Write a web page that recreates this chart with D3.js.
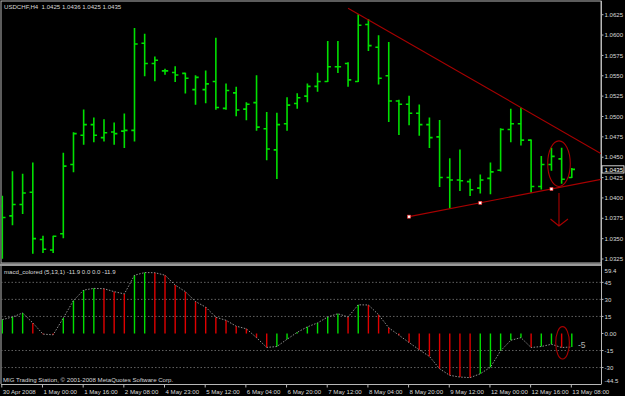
<!DOCTYPE html>
<html>
<head>
<meta charset="utf-8">
<script src="https://cdn.jsdelivr.net/npm/d3@7"></script>
<style>
  html, body { margin: 0; padding: 0; background: #000; }
  svg { display: block; }
  text { font-family: "Liberation Sans", Arial, sans-serif; }
</style>
</head>
<body>
<script>
// DATA -----------------------------------------------------------------------

var symbol = "USDCHF,H4";
var macdName = "macd_colored (5,13,1)";

// H4 bars, 30 Apr 08:00 .. 13 May 08:00
var opens  = [1.0390,1.0378,1.0392,1.0407,1.0349,1.0336,1.0356,1.0441,1.0477,1.0490,
              1.0474,1.0481,1.0482,1.0483,1.0590,1.0565,1.0556,1.0554,1.0553,1.0533,
              1.0533,1.0543,1.0510,1.0529,1.0509,1.0517,1.0485,1.0459,1.0491,1.0516,
              1.0525,1.0537,1.0543,1.0561,1.0565,1.0543,1.0613,1.0585,1.0550,1.0519,
              1.0515,1.0504,1.0490,1.0475,1.0425,1.0422,1.0420,1.0412,1.0424,1.0434,
              1.0484,1.0491,1.0471,1.0414,1.0441,1.0448,1.0425];
var highs  = [1.0402,1.0432,1.0429,1.0443,1.0353,1.0353,1.0455,1.0480,1.0508,1.0498,
              1.0496,1.0492,1.0503,1.0608,1.0601,1.0573,1.0558,1.0561,1.0553,1.0550,
              1.0556,1.0596,1.0540,1.0536,1.0517,1.0550,1.0505,1.0504,1.0523,1.0528,
              1.0540,1.0553,1.0592,1.0592,1.0566,1.0625,1.0619,1.0599,1.0591,1.0520,
              1.0525,1.0514,1.0498,1.0495,1.0448,1.0459,1.0423,1.0428,1.0443,1.0485,
              1.0509,1.0510,1.0471,1.0451,1.0461,1.0461,1.0436];
var lows   = [1.0326,1.0367,1.0381,1.0332,1.0333,1.0333,1.0351,1.0432,1.0466,1.0469,
              1.0470,1.0466,1.0462,1.0470,1.0550,1.0544,1.0552,1.0543,1.0529,1.0515,
              1.0517,1.0509,1.0509,1.0501,1.0496,1.0483,1.0447,1.0424,1.0483,1.0510,
              1.0518,1.0531,1.0543,1.0554,1.0537,1.0543,1.0581,1.0540,1.0494,1.0478,
              1.0490,1.0477,1.0462,1.0414,1.0388,1.0409,1.0403,1.0406,1.0405,1.0433,
              1.0469,1.0465,1.0407,1.0411,1.0434,1.0418,1.0425];
var closes = [1.0376,1.0392,1.0406,1.0350,1.0337,1.0353,1.0439,1.0479,1.0490,1.0477,
              1.0480,1.0479,1.0483,1.0589,1.0565,1.0569,1.0556,1.0551,1.0547,1.0548,
              1.0540,1.0511,1.0532,1.0508,1.0515,1.0487,1.0460,1.0490,1.0514,1.0523,
              1.0537,1.0543,1.0561,1.0561,1.0545,1.0612,1.0587,1.0547,1.0519,1.0515,
              1.0504,1.0490,1.0474,1.0425,1.0422,1.0421,1.0410,1.0422,1.0432,1.0484,
              1.0491,1.0471,1.0414,1.0441,1.0451,1.0423,1.0435];

var macdValues = [12.2,14.5,18.0,9.3,-0.6,-1.2,13.7,29.0,38.2,39.7,
                  39.4,36.8,34.8,51.3,53.6,53.5,51.3,42.6,36.8,28.1,
                  23.2,14.3,11.6,6.4,4.1,-3.7,-12.3,-11.5,-5.1,1.0,
                  5.8,9.3,14.5,17.4,14.5,25.2,25.1,16.5,5.0,-1.5,
                  -8.0,-14.4,-20.2,-31.1,-36.9,-38.4,-38.9,-35.5,-29.7,-15.3,
                  -6.0,-3.7,-12.4,-11.5,-9.5,-12.4,-11.9];

var timeTickIdx    = [0,4,8,12,16,20,24,28,32,36,40,44,48,52,56];
var timeTickLabels = ["30 Apr 2008","1 May 00:00","1 May 16:00","2 May 08:00","4 May 23:00",
                      "5 May 12:00","6 May 04:00","6 May 20:00","7 May 12:00","8 May 04:00",
                      "8 May 20:00","9 May 12:00","12 May 00:00","12 May 16:00","13 May 08:00"];

var priceTicks = [1.0625,1.0600,1.0575,1.0550,1.0525,1.0500,1.0475,1.0450,
                  1.0425,1.0400,1.0375,1.0350,1.0325];

var macdMax = 59.4, macdMin = -44.5;
var macdTicks      = [45, 30, 15, 0, -15, -30];
var macdTickLabels = ["45", "30", "15", "0.00", "-15", "-30"];
var macdLevels     = [45, 30, 15, -15, -30];

// drawn objects (bar index / price)
var upperTrendIdx   = [34, 51];
var upperTrendPrice = [1.0633, 1.0511];
var lowerTrendIdx   = [40, 47, 54];
var lowerTrendPrice = [1.0377, 1.0394, 1.0411];
var ellipseIdx      = [53.63, 55.85];
var ellipsePrice    = [1.0470, 1.0414];
var arrowIdx        = 54.74;
var arrowPrice      = [1.0406, 1.03655];
var subEllipseIdx   = [54.42, 55.76];
var subEllipseVal   = [6.0, -22.5];
var subTextIdx = 56.6, subTextVal = -10.1, subText = "-5";


// SETUP ----------------------------------------------------------------------

var W = 625, H = 396;
var chartLeft = 1, chartRight = 601;
var mainTop = 1, mainBottom = 263;
var subTop = 266, subBottom = 384;

var GREEN = "#00e000", RED = "#e00000", DRAW = "#a80000";
var TEXT = "#d8d8d8", FRAME = "#b8b8b8";

var svg = d3.select("body").append("svg")
    .attr("width", W).attr("height", H)
    .style("background", "#000");

var x = d3.scaleLinear().domain([0, 56]).range([2.3, 571.8]);
var y = d3.scaleLinear().domain([1.0325, 1.0625]).range([259, 14.7]);
var ys = d3.scaleLinear().domain([macdMin, macdMax]).range([subBottom, subTop]);

var defs = svg.append("defs");
defs.append("clipPath").attr("id", "clipMain").append("rect")
    .attr("x", chartLeft + 0.5).attr("y", mainTop + 0.5)
    .attr("width", chartRight - chartLeft - 0.5).attr("height", mainBottom - mainTop - 0.5);
defs.append("clipPath").attr("id", "clipSub").append("rect")
    .attr("x", chartLeft + 0.5).attr("y", subTop + 0.5)
    .attr("width", chartRight - chartLeft - 0.5).attr("height", subBottom - subTop - 0.5);


// FRAMES ---------------------------------------------------------------------

svg.append("rect")
    .attr("x", chartLeft).attr("y", mainTop)
    .attr("width", chartRight - chartLeft).attr("height", mainBottom - mainTop)
    .attr("fill", "none").attr("stroke", FRAME).attr("stroke-width", 1);
svg.append("rect")
    .attr("x", 0).attr("y", mainBottom + 0.5)
    .attr("width", chartRight + 0.5).attr("height", subTop - mainBottom - 0.5)
    .attr("fill", "#9a9a9a");
svg.append("line")
    .attr("x1", chartLeft).attr("x2", chartLeft)
    .attr("y1", subTop).attr("y2", subBottom)
    .attr("stroke", FRAME);
svg.append("line")
    .attr("x1", chartRight + 0.5).attr("x2", chartRight + 0.5)
    .attr("y1", mainTop).attr("y2", subBottom)
    .attr("stroke", FRAME);
svg.append("line")
    .attr("x1", chartLeft).attr("x2", chartRight + 0.5)
    .attr("y1", subBottom + 0.5).attr("y2", subBottom + 0.5)
    .attr("stroke", FRAME);


// MAIN PANEL -----------------------------------------------------------------

var main = svg.append("g").attr("clip-path", "url(#clipMain)");
var idx = d3.range(opens.length);

var bars = main.append("g").attr("stroke", GREEN).attr("stroke-width", 1.6);
bars.selectAll(".hl").data(idx).enter().append("line")
    .attr("x1", function(i) { return x(i); }).attr("x2", function(i) { return x(i); })
    .attr("y1", function(i) { return y(highs[i]) - 0.5; })
    .attr("y2", function(i) { return y(lows[i]) + 0.5; });
bars.selectAll(".op").data(idx).enter().append("line")
    .attr("x1", function(i) { return x(i) - 3.2; }).attr("x2", function(i) { return x(i); })
    .attr("y1", function(i) { return y(opens[i]); }).attr("y2", function(i) { return y(opens[i]); });
bars.selectAll(".cl").data(idx).enter().append("line")
    .attr("x1", function(i) { return x(i); }).attr("x2", function(i) { return x(i) + 3.2; })
    .attr("y1", function(i) { return y(closes[i]); }).attr("y2", function(i) { return y(closes[i]); });

// trend lines, extended to the right edge
function extendRight(i0, p0, i1, p1) {
    var x0 = x(i0), y0 = y(p0), x1 = x(i1), y1 = y(p1);
    var k = (y1 - y0) / (x1 - x0);
    return [x0, y0, chartRight + 5, y0 + k * (chartRight + 5 - x0)];
}
var up = extendRight(upperTrendIdx[0], upperTrendPrice[0], upperTrendIdx[1], upperTrendPrice[1]);
main.append("line")
    .attr("x1", up[0]).attr("y1", up[1]).attr("x2", up[2]).attr("y2", up[3])
    .attr("stroke", DRAW).attr("stroke-width", 1.1);
var lo = extendRight(lowerTrendIdx[0], lowerTrendPrice[0], lowerTrendIdx[2], lowerTrendPrice[2]);
main.append("line")
    .attr("x1", lo[0]).attr("y1", lo[1]).attr("x2", lo[2]).attr("y2", lo[3])
    .attr("stroke", DRAW).attr("stroke-width", 1.1);
main.selectAll(".anchor").data(lowerTrendIdx).enter().append("rect")
    .attr("x", function(d) { return x(d) - 1.5; })
    .attr("y", function(d, i) { return y(lowerTrendPrice[i]) - 1.5; })
    .attr("width", 3).attr("height", 3)
    .attr("fill", "#ffffff").attr("stroke", "#ff3030").attr("stroke-width", 0.6);

// ellipse around the last bars
main.append("ellipse")
    .attr("cx", (x(ellipseIdx[0]) + x(ellipseIdx[1])) / 2)
    .attr("cy", (y(ellipsePrice[0]) + y(ellipsePrice[1])) / 2)
    .attr("rx", (x(ellipseIdx[1]) - x(ellipseIdx[0])) / 2)
    .attr("ry", (y(ellipsePrice[1]) - y(ellipsePrice[0])) / 2)
    .attr("fill", "none").attr("stroke", DRAW).attr("stroke-width", 1.1);

// down arrow
var ax = x(arrowIdx), ay0 = y(arrowPrice[0]), ay1 = y(arrowPrice[1]);
main.append("path")
    .attr("d", "M" + ax + "," + ay0 + "V" + ay1 +
               "M" + (ax - 8.5) + "," + (ay1 - 7) + "L" + ax + "," + ay1 +
               "L" + (ax + 9) + "," + (ay1 - 7))
    .attr("fill", "none").attr("stroke", DRAW).attr("stroke-width", 1.1);

svg.append("text")
    .attr("x", 4).attr("y", 9.2)
    .attr("font-size", 6.1).attr("fill", TEXT)
    .attr("xml:space", "preserve")
    .text(symbol + "  " + [opens[56], highs[56], lows[56], closes[56]]
          .map(function(v) { return v.toFixed(4); }).join(" "));

// price axis
var pAxis = svg.append("g");
pAxis.selectAll("line").data(priceTicks).enter().append("line")
    .attr("x1", chartRight).attr("x2", chartRight + 2.5)
    .attr("y1", function(d) { return y(d); }).attr("y2", function(d) { return y(d); })
    .attr("stroke", FRAME);
pAxis.selectAll("text").data(priceTicks).enter().append("text")
    .attr("x", chartRight + 3.5).attr("y", function(d) { return y(d) + 2.2; })
    .attr("font-size", 6.1).attr("fill", TEXT)
    .text(function(d) { return d.toFixed(4); });

// current price label
var lastY = y(closes[56]);
svg.append("rect")
    .attr("x", chartRight + 1).attr("y", lastY - 3.6)
    .attr("width", 22).attr("height", 7.2)
    .attr("fill", "#000").attr("stroke", "#ffffff").attr("stroke-width", 0.8);
svg.append("text")
    .attr("x", chartRight + 3.5).attr("y", lastY + 2.2)
    .attr("font-size", 6.1).attr("fill", "#ffffff")
    .text(closes[56].toFixed(4));


// MACD PANEL -----------------------------------------------------------------

var sub = svg.append("g").attr("clip-path", "url(#clipSub)");

sub.selectAll(".lvl").data(macdLevels).enter().append("line")
    .attr("x1", chartLeft).attr("x2", chartRight)
    .attr("y1", function(d) { return ys(d); }).attr("y2", function(d) { return ys(d); })
    .attr("stroke", "#7a7a7a").attr("stroke-width", 0.8)
    .attr("stroke-dasharray", "1.5,2");

sub.selectAll(".hist").data(idx).enter().append("line")
    .attr("x1", function(i) { return x(i); }).attr("x2", function(i) { return x(i); })
    .attr("y1", ys(0))
    .attr("y2", function(i) { return ys(macdValues[i]); })
    .attr("stroke", function(i) {
        return (i === 0 || macdValues[i] >= macdValues[i - 1]) ? GREEN : RED;
    })
    .attr("stroke-width", 1.4);

sub.append("path")
    .datum(idx)
    .attr("d", d3.line()
        .x(function(i) { return x(i); })
        .y(function(i) { return ys(macdValues[i]); }))
    .attr("fill", "none").attr("stroke", "#a0a0a0").attr("stroke-width", 0.9)
    .attr("stroke-dasharray", "1.5,1.5");

sub.append("ellipse")
    .attr("cx", (x(subEllipseIdx[0]) + x(subEllipseIdx[1])) / 2)
    .attr("cy", (ys(subEllipseVal[0]) + ys(subEllipseVal[1])) / 2)
    .attr("rx", (x(subEllipseIdx[1]) - x(subEllipseIdx[0])) / 2)
    .attr("ry", (ys(subEllipseVal[1]) - ys(subEllipseVal[0])) / 2)
    .attr("fill", "none").attr("stroke", DRAW).attr("stroke-width", 1.1);

sub.append("text")
    .attr("x", x(subTextIdx)).attr("y", ys(subTextVal) + 3)
    .attr("font-size", 8.5).attr("fill", "#b0b0b0")
    .text(subText);

var mv = macdValues[macdValues.length - 1];
svg.append("text")
    .attr("x", 4).attr("y", subTop + 8.2)
    .attr("font-size", 6.1).attr("fill", TEXT)
    .text(macdName + " " + mv.toFixed(1) + " 0.0 0.0 " + mv.toFixed(1));

svg.append("text")
    .attr("x", 3).attr("y", subBottom - 2.5)
    .attr("font-size", 6.1).attr("fill", TEXT)
    .text("MIG Trading Station, \u00a9 2001-2008 MetaQuotes Software Corp.");

// macd axis
var sAxis = svg.append("g");
sAxis.selectAll("line").data(macdTicks).enter().append("line")
    .attr("x1", chartRight).attr("x2", chartRight + 2.5)
    .attr("y1", function(d) { return ys(d); }).attr("y2", function(d) { return ys(d); })
    .attr("stroke", FRAME);
sAxis.selectAll("text").data(macdTicks).enter().append("text")
    .attr("x", chartRight + 3.5).attr("y", function(d) { return ys(d) + 2.2; })
    .attr("font-size", 6.1).attr("fill", TEXT)
    .text(function(d, i) { return macdTickLabels[i]; });
sAxis.append("text")
    .attr("x", chartRight + 3.5).attr("y", subTop + 7)
    .attr("font-size", 6.1).attr("fill", TEXT)
    .text(macdMax.toFixed(1));
sAxis.append("text")
    .attr("x", chartRight + 3.5).attr("y", subBottom - 1)
    .attr("font-size", 6.1).attr("fill", TEXT)
    .text(macdMin.toFixed(1));


// TIME AXIS ------------------------------------------------------------------

var tAxis = svg.append("g");
tAxis.selectAll("line").data(timeTickIdx).enter().append("line")
    .attr("x1", function(d) { return x(d) - 0.5; }).attr("x2", function(d) { return x(d) - 0.5; })
    .attr("y1", subBottom).attr("y2", subBottom + 3.5)
    .attr("stroke", FRAME);
tAxis.selectAll("text").data(timeTickIdx).enter().append("text")
    .attr("x", function(d) { return x(d) + 0.5; })
    .attr("y", subBottom + 9.5)
    .attr("font-size", 6.1).attr("fill", TEXT)
    .text(function(d, i) { return timeTickLabels[i]; });
</script>
</body>
</html>
